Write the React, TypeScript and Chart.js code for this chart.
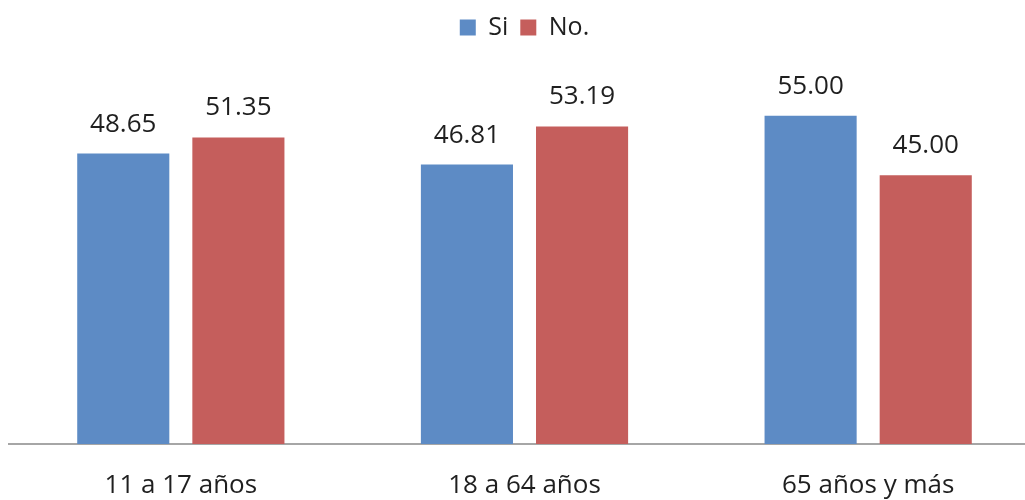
import React, { useEffect, useRef } from "react";
import { Chart, registerables } from "chart.js";

Chart.register(...registerables);

const categories = ["11 a 17 años", "18 a 64 años", "65 años y más"];
const siValues = [48.65, 46.81, 55.0];
const noValues = [51.35, 53.19, 45.0];
const seriesNames = ["Si", "No."];

const FONT = "'Open Sans', sans-serif";

const valueLabels = {
  id: "valueLabels",
  afterDatasetsDraw(chart: any) {
    const ctx = chart.ctx;
    ctx.save();
    ctx.font = `26px ${FONT}`;
    ctx.fillStyle = "#1f1f1f";
    ctx.textAlign = "center";
    ctx.textBaseline = "alphabetic";
    chart.data.datasets.forEach((ds: any, i: number) => {
      const meta = chart.getDatasetMeta(i);
      meta.data.forEach((bar: any, j: number) => {
        ctx.fillText(Number(ds.data[j]).toFixed(2), bar.x, bar.y - 22);
      });
    });
    ctx.restore();
  },
};

export default function App() {
  const ref = useRef<HTMLCanvasElement>(null);
  useEffect(() => {
    if (!ref.current) return;
    const chart = new Chart(ref.current, {
      type: "bar",
      data: {
        labels: categories,
        datasets: [
          {
            label: seriesNames[0],
            data: siValues,
            backgroundColor: "rgb(93,139,197)",
            borderWidth: 0,
          },
          {
            label: seriesNames[1],
            data: noValues,
            backgroundColor: "rgb(197,94,92)",
            borderWidth: 0,
          },
        ],
      },
      options: {
        animation: false,
        responsive: false,
        maintainAspectRatio: false,
        events: [],
        categoryPercentage: 0.67,
        barPercentage: 0.8,
        layout: { padding: { left: 9, right: 0, top: 3, bottom: 0 } },
        plugins: {
          tooltip: { enabled: false },
          legend: {
            display: true,
            position: "top",
            labels: {
              boxWidth: 16,
              boxHeight: 16,
              padding: 12,
              color: "#1f1f1f",
              font: { family: FONT, size: 25 },
            },
          },
        },
        scales: {
          x: {
            grid: { display: false, drawTicks: false },
            border: { display: true, color: "#a6a6a6", width: 2 },
            ticks: {
              color: "#1f1f1f",
              padding: 26,
              font: { family: FONT, size: 26 },
              maxRotation: 0,
            },
            afterFit(scale: any) {
              scale.height = 56;
            },
          },
          y: {
            display: false,
            min: 0,
            max: 66,
          },
        },
      },
      plugins: [valueLabels],
    });
    return () => chart.destroy();
  }, []);
  return (
    <div
      style={{
        position: "absolute",
        left: 0,
        top: 0,
        width: 1025,
        height: 500,
        overflow: "hidden",
        background: "#fff",
      }}
    >
      <canvas ref={ref} width={1040} height={500} style={{ display: "block" }} />
    </div>
  );
}
